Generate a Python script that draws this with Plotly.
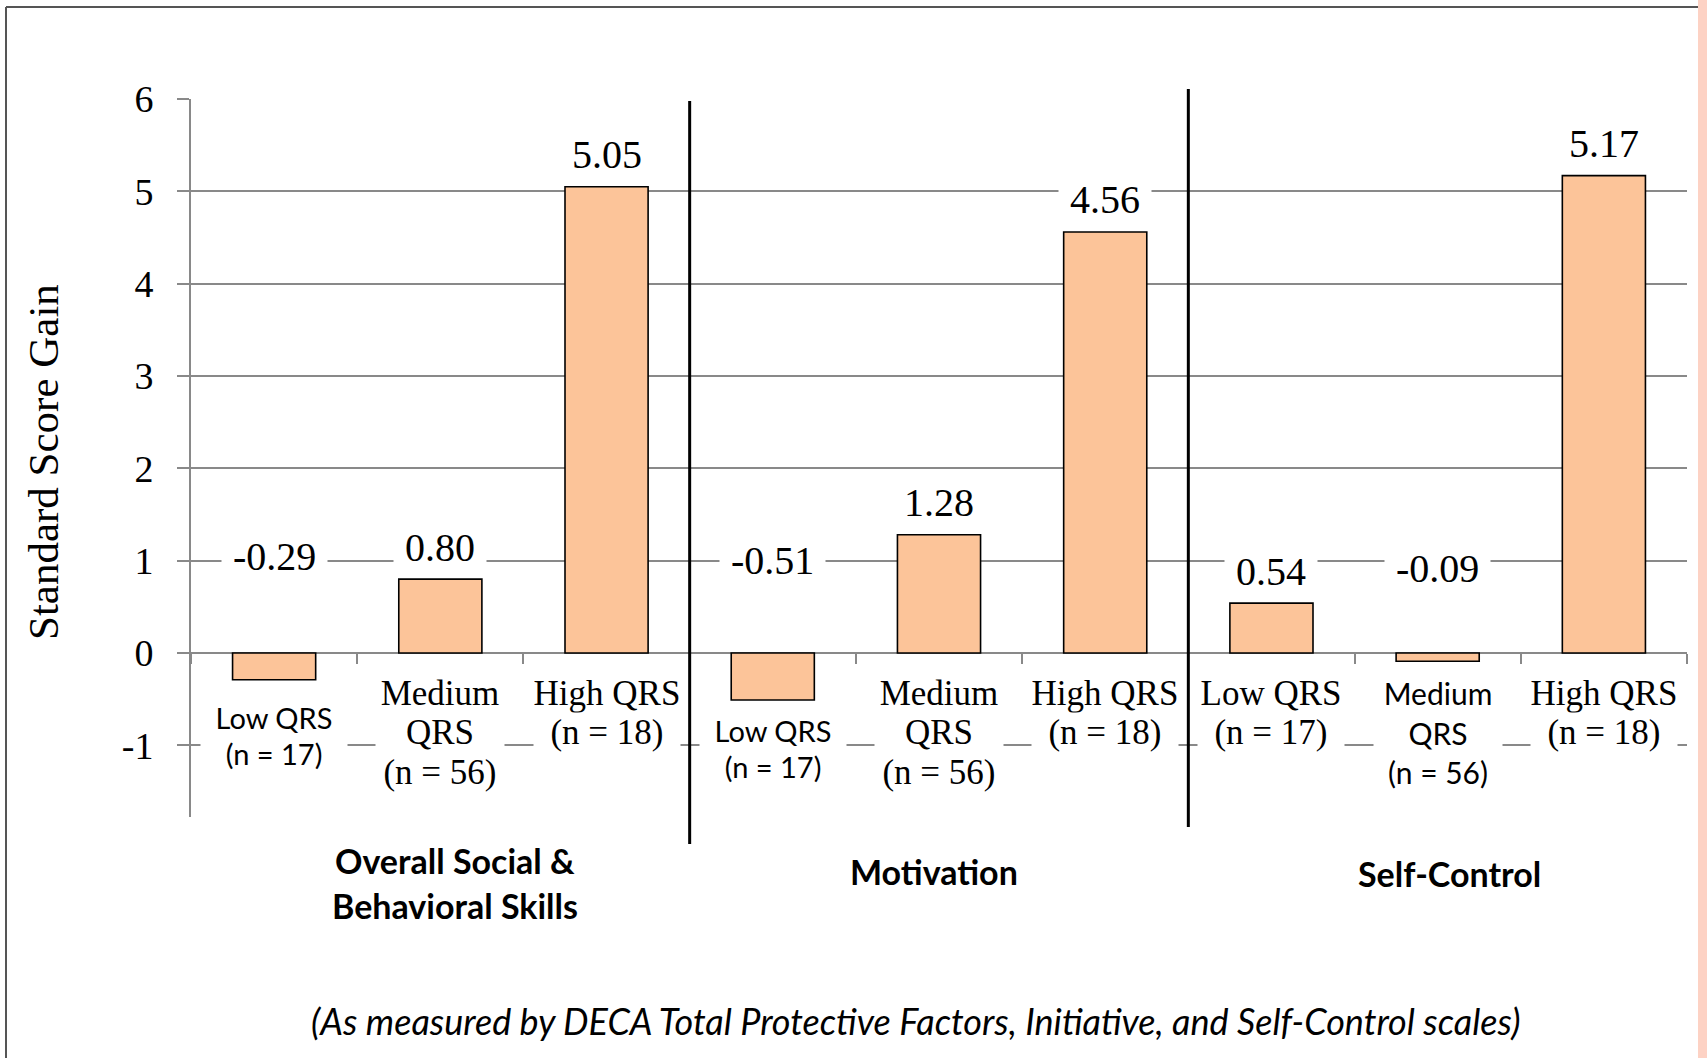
import plotly.graph_objects as go

# ---- data -------------------------------------------------------------
groups = ["Overall Social &", "Motivation", "Self-Control"]
group_subtitle = ["Behavioral Skills", "", ""]
levels = ["Low QRS", "Medium QRS", "High QRS"]
sample_sizes = ["(n = 17)", "(n = 56)", "(n = 18)"]
gains = [-0.29, 0.80, 5.05,    # Overall Social & Behavioral Skills
         -0.51, 1.28, 4.56,    # Motivation
         0.54, -0.09, 5.17]    # Self-Control
y_ticks = [-1, 0, 1, 2, 3, 4, 5, 6]
footnote = "(As measured by DECA Total Protective Factors, Initiative, and Self-Control scales)"

# ---- page geometry (pixels) --------------------------------------------
W, H = 1707, 1058
PL, PR, PT, PB = 191, 1687, 99, 817          # plot area
Y_MIN, Y_MAX = -1.777, 6

def fx(px):
    return (px - PL) / (PR - PL)

def fy(py):
    return (PB - py) / (PB - PT)

def y_paper(v):
    return (v - Y_MIN) / (Y_MAX - Y_MIN)

def x_paper(v):
    return (v + 0.5) / len(gains)

SERIF = "Liberation Serif"
SANS = "Lato"
GRID = "#898989"
BAR = "#FCC499"

xs = list(range(len(gains)))

fig = go.Figure(go.Bar(
    x=xs, y=gains, width=0.5,
    marker=dict(color=BAR, line=dict(color="black", width=1.6)),
    hoverinfo="skip",
))

fig.update_layout(
    width=W, height=H,
    margin=dict(l=PL, r=W - PR, t=PT, b=H - PB),
    plot_bgcolor="white", paper_bgcolor="white",
    showlegend=False,
)

fig.update_yaxes(
    range=[Y_MIN, Y_MAX],
    tickmode="array", tickvals=y_ticks, ticktext=[str(t) for t in y_ticks],
    ticks="outside", ticklen=12, tickwidth=2, tickcolor=GRID,
    showgrid=True, gridcolor=GRID, gridwidth=2,
    showline=True, linecolor=GRID, linewidth=2,
    zeroline=False,
    tickfont=dict(family=SERIF, size=38, color="black"),
    ticklabelstandoff=16,
)

# category axis sits on the zero line, with ticks on category boundaries
fig.update_xaxes(
    range=[-0.5, len(gains) - 0.5],
    anchor="free", position=y_paper(0),
    tickmode="array", tickvals=[i - 0.5 for i in range(len(gains) + 1)],
    ticktext=[""] * (len(gains) + 1),
    ticks="outside", ticklen=10, tickwidth=2, tickcolor=GRID,
    showgrid=False, showline=False, zeroline=False,
)

ann = []

# value labels
neg_label_y = {0: 1.05, 3: 1.0, 7: 0.92}
for i, v in enumerate(gains):
    if v >= 0:
        y, shift = v, 32
    else:
        y, shift = neg_label_y[i], 0
    ann.append(dict(
        x=i, y=y, xref="x", yref="y", yshift=shift,
        text="\u00a0" + f"{v:.2f}" + "\u00a0", showarrow=False,
        font=dict(family=SERIF, size=40, color="black"),
        bgcolor="white", borderpad=1,
        xanchor="center", yanchor="middle",
    ))

# category labels (per line, so spacing follows the original layout)
sans_cats = {0, 3, 7}
first_line_px = {0: 717, 3: 730}
for i in xs:
    lvl = levels[i % 3]
    n = sample_sizes[i % 3]
    if lvl.startswith("Medium"):
        lines = ["Medium", "QRS", n]
        box_w = 128
    else:
        lines = [lvl, n]
        box_w = 146
    sans = i in sans_cats
    fam = SANS if sans else SERIF
    size = 29 if (sans and i != 7) else (30 if sans else 35)
    step = 36.5 if (sans and i != 7) else 39.5
    y0 = first_line_px.get(i, 693)
    for k, line in enumerate(lines):
        ann.append(dict(
            x=i, xref="x", y=fy(y0 + k * step), yref="paper",
            text=line, showarrow=False,
            font=dict(family=fam, size=size, color="black"),
            bgcolor="white", width=box_w, borderpad=0,
            xanchor="center", yanchor="middle",
        ))

# group titles
group_pos = [(455, 860), (934, 871), (1449, 873)]
for g, (gx, gy) in enumerate(group_pos):
    ann.append(dict(
        x=fx(gx), y=fy(gy), xref="paper", yref="paper",
        text=groups[g], showarrow=False,
        font=dict(family=SANS, size=34, color="black", weight="bold"),
        xanchor="center", yanchor="middle",
    ))
    if group_subtitle[g]:
        ann.append(dict(
            x=fx(gx), y=fy(gy + 46), xref="paper", yref="paper",
            text=group_subtitle[g], showarrow=False,
            font=dict(family=SANS, size=34, color="black", weight="bold"),
            xanchor="center", yanchor="middle",
        ))

# axis title
ann.append(dict(
    x=fx(43), y=fy(462), xref="paper", yref="paper",
    text="Standard Score Gain", textangle=-90, showarrow=False,
    font=dict(family=SERIF, size=43, color="black"),
    xanchor="center", yanchor="middle",
))

# footnote
ann.append(dict(
    x=fx(916), y=fy(1021), xref="paper", yref="paper",
    text=footnote, showarrow=False,
    font=dict(family=SANS, size=36, color="black", style="italic"),
    xanchor="center", yanchor="middle",
))

fig.update_layout(annotations=ann)

shapes = []
# group separators
for b, (ya, yb) in zip([2.5, 5.5], [(101, 844), (89, 827)]):
    shapes.append(dict(type="line", xref="paper", yref="paper",
                       x0=x_paper(b), x1=x_paper(b), y0=fy(yb), y1=fy(ya),
                       line=dict(color="black", width=3)))
# outer frame (top and left edges)
shapes.append(dict(type="line", xref="paper", yref="paper",
                   x0=fx(6), x1=fx(1698), y0=fy(7), y1=fy(7),
                   line=dict(color="#555555", width=2)))
shapes.append(dict(type="line", xref="paper", yref="paper",
                   x0=fx(6), x1=fx(6), y0=fy(7), y1=fy(H),
                   line=dict(color="#555555", width=2)))
# tinted strip at the right edge
shapes.append(dict(type="rect", xref="paper", yref="paper",
                   x0=fx(1698), x1=fx(W), y0=fy(H), y1=fy(0),
                   fillcolor="#FDD2C4", line=dict(width=0)))
fig.update_layout(shapes=shapes)

fig.write_html("out.html")
